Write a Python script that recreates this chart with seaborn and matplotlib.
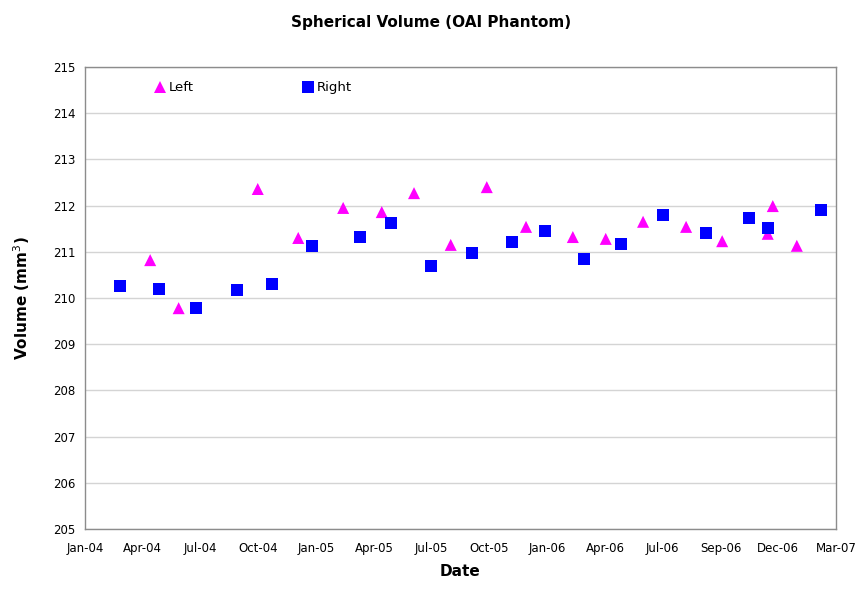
import matplotlib
matplotlib.use("Agg")
import matplotlib.pyplot as plt
import seaborn as sns
import pandas as pd
import numpy as np

# ---- data ----
left_dates = ["2004-04-13", "2004-05-28", "2004-09-30", "2004-12-03", "2005-02-12",
              "2005-04-14", "2005-06-04", "2005-08-01", "2005-09-27", "2005-11-28",
              "2006-02-10", "2006-04-03", "2006-06-01", "2006-08-08", "2006-10-04",
              "2006-12-15", "2006-12-23", "2007-01-30"]
left_values = [210.82, 209.78, 212.36, 211.30, 211.95, 211.86, 212.27, 211.15, 212.40,
               211.54, 211.32, 211.28, 211.65, 211.54, 211.23, 211.39, 211.99, 211.13]

right_dates = ["2004-02-25", "2004-04-27", "2004-06-24", "2004-08-28", "2004-10-23",
               "2004-12-25", "2005-03-11", "2005-04-29", "2005-07-01", "2005-09-04",
               "2005-11-06", "2005-12-28", "2006-02-28", "2006-04-27", "2006-07-02",
               "2006-09-08", "2006-11-15", "2006-12-15", "2007-03-09"]
right_values = [210.26, 210.19, 209.78, 210.17, 210.30, 211.13, 211.32, 211.62, 210.69,
                210.97, 211.21, 211.45, 210.84, 211.17, 211.80, 211.41, 211.73, 211.52,
                211.90]

x_tick_labels = ["Jan-04", "Apr-04", "Jul-04", "Oct-04", "Jan-05", "Apr-05", "Jul-05",
                 "Oct-05", "Jan-06", "Apr-06", "Jul-06", "Sep-06", "Dec-06", "Mar-07"]
y_ticks = [205, 206, 207, 208, 209, 210, 211, 212, 213, 214, 215]

# ---- build table ----
origin = pd.Timestamp("2004-01-01")
df = pd.concat([
    pd.DataFrame({"date": pd.to_datetime(left_dates), "volume": left_values, "side": "Left"}),
    pd.DataFrame({"date": pd.to_datetime(right_dates), "volume": right_values, "side": "Right"}),
], ignore_index=True)
df["day"] = (df["date"] - origin).dt.days

step = 91.3  # axis major unit in days

sns.set_style("white")
plt.rcParams["font.family"] = ["DejaVu Sans"]
plt.rcParams["text.color"] = "black"
plt.rcParams["axes.labelcolor"] = "black"
plt.rcParams["xtick.color"] = "black"
plt.rcParams["ytick.color"] = "black"

fig = plt.figure(figsize=(8.63, 5.92), dpi=100)
ax = fig.add_axes([0.0985, 0.1064, 0.8702, 0.7804])

sns.scatterplot(data=df, x="day", y="volume", hue="side", style="side",
                markers={"Left": "^", "Right": "s"},
                palette={"Left": "#FF00FF", "Right": "#0000FF"},
                s=75, linewidth=0, ax=ax, zorder=3)

ax.set_xlim(0, step * (len(x_tick_labels) - 1))
ax.set_ylim(205, 215)
ax.set_xticks(np.arange(len(x_tick_labels)) * step)
ax.set_xticklabels(x_tick_labels)
ax.set_yticks(y_ticks)
ax.set_yticklabels([str(v) for v in y_ticks])

ax.grid(axis="y", color="#d4d4d4", linewidth=1.0)
ax.set_axisbelow(True)
for sp in ax.spines.values():
    sp.set_color("#8c8c8c")
    sp.set_linewidth(1.0)

ax.tick_params(axis="both", which="major", direction="out", length=4, width=1,
               color="#8c8c8c", labelsize=8.5, labelcolor="black", pad=3)
ax.tick_params(axis="x", pad=5)

ax.set_xlabel("Date", fontsize=11, fontweight="bold", labelpad=7, color="black")
ax.set_ylabel("Volume (mm$^3$)", fontsize=11, fontweight="bold", labelpad=15, color="black")
fig.suptitle("Spherical Volume (OAI Phantom)", fontsize=11, fontweight="bold",
             y=0.975, color="black")

leg = ax.legend(loc="center left", bbox_to_anchor=(0.091, 0.955), ncol=2,
                frameon=False, handlelength=1.0, handletextpad=0.2,
                columnspacing=8.1, borderpad=0, borderaxespad=0,
                fontsize=9.5, markerscale=1.0, title=None)
for t in leg.get_texts():
    t.set_color("black")

fig.savefig("out.png", dpi=100)
